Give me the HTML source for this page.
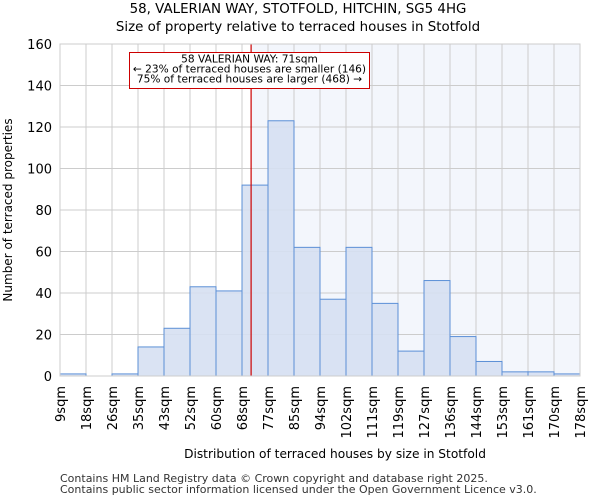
<!DOCTYPE html>
<html><head><meta charset="utf-8"><style>
body{margin:0;background:#fff;font-family:"DejaVu Sans","Liberation Sans",sans-serif}
</style></head><body>
<svg id="c" width="600" height="500" xmlns="http://www.w3.org/2000/svg">
<text x="298" y="13" text-anchor="middle" font-size="13.4">58, VALERIAN WAY, STOTFOLD, HITCHIN, SG5 4HG</text>
<text x="298" y="31" text-anchor="middle" font-size="13.4">Size of property relative to terraced houses in Stotfold</text>
<text x="335" y="458" text-anchor="middle" font-size="12.2">Distribution of terraced houses by size in Stotfold</text>
<text transform="translate(12,210) rotate(-90)" text-anchor="middle" font-size="12">Number of terraced properties</text>
<text x="60" y="482" font-size="11" fill="#333">Contains HM Land Registry data © Crown copyright and database right 2025.</text>
<text x="60" y="493" font-size="11" fill="#333">Contains public sector information licensed under the Open Government Licence v3.0.</text>
<g id="plot"></g>
</svg>
<script>
const binLabels=["9sqm","18sqm","26sqm","35sqm","43sqm","52sqm","60sqm","68sqm","77sqm","85sqm","94sqm","102sqm","111sqm","119sqm","127sqm","136sqm","144sqm","153sqm","161sqm","170sqm","178sqm"];
const counts=[1,0,1,14,23,43,41,92,123,62,37,62,35,12,46,19,7,2,2,1];
const yTicks=[0,20,40,60,80,100,120,140,160];
const markerBin=7.35;
const X0=60,X1=580,Y0=376,Y1=44,yMax=160;
const n=counts.length;
const xs=i=>X0+(X1-X0)*i/n;
const ys=v=>Y0-(Y0-Y1)*v/yMax;
const NS="http://www.w3.org/2000/svg";
const g=document.getElementById('plot');
function mk(t,a){const e=document.createElementNS(NS,t);for(const k in a)e.setAttribute(k,a[k]);g.appendChild(e);return e;}
const mx=xs(markerBin);
let e=mk('rect',{x:mx,y:Y1,width:X1-mx,height:Y0-Y1,fill:'#f3f6fc'});


yTicks.forEach(t=>{
 let l=mk('line',{x1:X0,x2:X1,y1:ys(t),y2:ys(t),stroke:'#cccccc','stroke-width':1});
 
 
 let tx=mk('text',{x:X0-8,y:ys(t)+5,'text-anchor':'end','font-size':13});
 tx.textContent=t;
 
 
});
binLabels.forEach((lab,i)=>{
 let l=mk('line',{x1:xs(i),x2:xs(i),y1:Y1,y2:Y0,stroke:'#cccccc','stroke-width':1});
 
 
 let tx=mk('text',{transform:`translate(${xs(i)+5},386) rotate(-90)`,'text-anchor':'end','font-size':13});
 tx.textContent=lab;
 
 
});
counts.forEach((v,i)=>{
 let r=mk('rect',{x:xs(i),y:ys(v),width:xs(i+1)-xs(i),height:Y0-ys(v),fill:'#d6e0f2','fill-opacity':0.9,stroke:'#5b8fd6','stroke-width':1});
 
 
});
let ln=mk('line',{x1:mx,x2:mx,y1:Y1,y2:Y0,stroke:'#cc0000','stroke-width':1.2});


let bx=mk('rect',{x:129.5,y:52.5,width:240,height:36,fill:'#fff',stroke:'#cc0000','stroke-width':1});


["58 VALERIAN WAY: 71sqm","← 23% of terraced houses are smaller (146)","75% of terraced houses are larger (468) →"].forEach((s,k)=>{
 let t=mk('text',{x:249.5,y:62.5+k*10,'text-anchor':'middle','font-size':10.6});
 t.textContent=s;
 
 
});
let ax=mk('rect',{x:X0,y:Y1,width:X1-X0,height:Y0-Y1,fill:'none',stroke:'#cccccc','stroke-width':1});


</script>
</body></html>
